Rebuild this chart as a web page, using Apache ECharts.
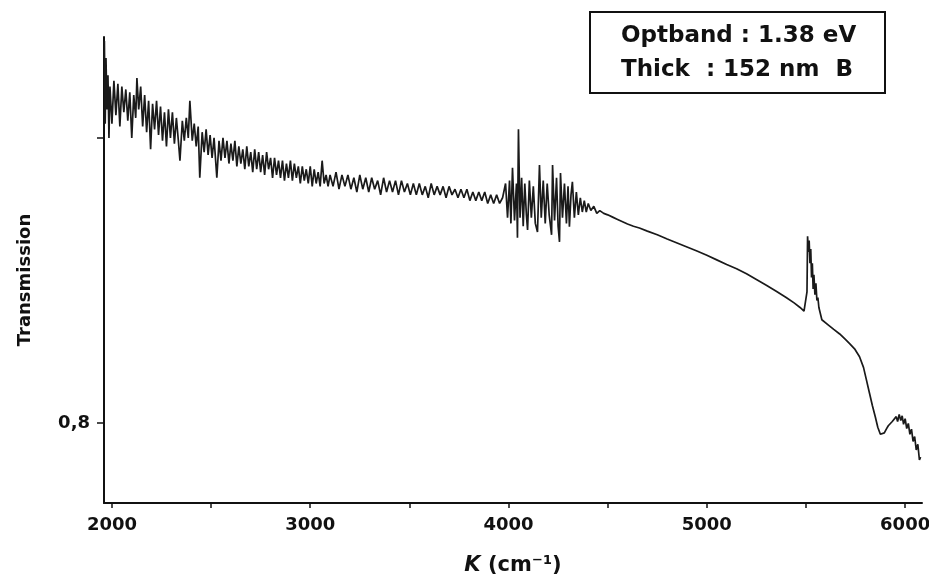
<!DOCTYPE html>
<html>
<head>
<meta charset="utf-8">
<script src="https://cdn.jsdelivr.net/npm/echarts@6/dist/echarts.min.js"></script>
<style>
html,body{margin:0;padding:0;background:#fff;}
#chart{width:929px;height:586px;}
</style>
</head>
<body>
<div id="chart"></div>
<script>
// ---- data (wavenumber cm^-1, transmission) ----
const regionA = [
 [1962,0.934],[1966,0.905],[1970,0.928],[1975,0.910],[1980,0.922],[1985,0.900],[1990,0.918],
 [2000,0.905],[2010,0.920],[2020,0.908],[2030,0.919],[2040,0.904],[2050,0.918],[2060,0.909],
 [2070,0.917],[2080,0.906],[2090,0.916],[2100,0.900],[2110,0.915],[2120,0.907],[2126,0.921],
 [2135,0.910],[2145,0.918],[2155,0.904],[2165,0.915],[2175,0.902],[2185,0.913],[2195,0.896]
];
const regionB = [
 [2205,0.912],[2215,0.903],[2225,0.913],[2235,0.901],[2245,0.911],[2255,0.899],[2265,0.909],
 [2275,0.897],[2285,0.910],[2295,0.900],[2305,0.909],[2315,0.898],[2325,0.907],[2335,0.899],
 [2343,0.892],[2355,0.906],[2365,0.899],[2375,0.907],[2385,0.900],[2393,0.913],[2405,0.899],
 [2415,0.905],[2425,0.897],[2435,0.904],[2443,0.886],[2455,0.902],[2465,0.895],[2475,0.903],
 [2485,0.894],[2495,0.901],[2505,0.893],[2515,0.900],[2529,0.886],[2540,0.899],[2550,0.892],
 [2560,0.900],[2570,0.893],[2580,0.899],[2590,0.891],[2600,0.898],[2610,0.892],[2620,0.899],
 [2630,0.890],[2640,0.897],[2650,0.891],[2660,0.896],[2670,0.889],[2680,0.897],[2690,0.890]
];
const regionC = [
 [2700,0.895],[2710,0.888],[2720,0.896],[2730,0.889],[2740,0.895],[2750,0.888],[2760,0.894],
 [2770,0.887],[2780,0.895],[2790,0.889],[2800,0.893],[2810,0.886],[2820,0.893],[2830,0.887],
 [2840,0.892],[2850,0.886],[2860,0.892],[2870,0.885],[2880,0.891],[2890,0.886],[2900,0.892],
 [2910,0.885],[2920,0.891],[2930,0.886],[2940,0.890],[2950,0.884],[2960,0.890],[2970,0.885],
 [2980,0.889],[2990,0.884],[3000,0.890],[3010,0.883],[3020,0.889],[3030,0.884],[3040,0.888],
 [3050,0.883],[3060,0.892],[3070,0.884],[3080,0.887],[3090,0.883],[3100,0.887]
];
const regionD = [
 [3115,0.883],[3130,0.888],[3145,0.882],[3160,0.887],[3175,0.883],[3190,0.887],[3205,0.882],
 [3220,0.886],[3235,0.881],[3250,0.887],[3265,0.882],[3280,0.886],[3295,0.881],[3310,0.886],
 [3325,0.882],[3340,0.885],[3355,0.880],[3370,0.886],[3385,0.881],[3400,0.885],[3415,0.881],
 [3430,0.885],[3445,0.880],[3460,0.885],[3475,0.881],[3490,0.884],[3505,0.880],[3520,0.884],
 [3535,0.880],[3550,0.884],[3565,0.880],[3580,0.883],[3595,0.879],[3610,0.884],[3625,0.880],
 [3640,0.883],[3655,0.880],[3670,0.883],[3685,0.879],[3700,0.883],[3715,0.880],[3730,0.882],
 [3745,0.879],[3760,0.882],[3775,0.879],[3790,0.882],[3805,0.878],[3820,0.881],[3835,0.878],
 [3850,0.881],[3865,0.878],[3880,0.881],[3895,0.877],[3910,0.880],[3925,0.877],[3940,0.880],
 [3955,0.877],[3970,0.879]
];
const regionE = [
 [3985,0.884],[3995,0.872],[4005,0.885],[4012,0.870],[4020,0.8895],[4030,0.871],[4040,0.884],
 [4045,0.865],[4050,0.903],[4058,0.872],[4066,0.886],[4074,0.869],[4082,0.884],[4090,0.873],
 [4096,0.8677],[4105,0.885],[4115,0.872],[4125,0.883],[4135,0.870],[4146,0.867],[4156,0.8905],
 [4165,0.872],[4175,0.885],[4185,0.870],[4195,0.884],[4205,0.873],[4217,0.866],[4222,0.8905],
 [4232,0.871],[4242,0.886],[4250,0.869],[4257,0.8635],[4262,0.8877],[4272,0.872],[4282,0.884],
 [4292,0.870],[4300,0.883],[4307,0.8688],[4315,0.880],[4322,0.8846],[4332,0.872],[4342,0.881],
 [4352,0.873],[4362,0.879],[4372,0.874],[4382,0.878],[4392,0.874],[4402,0.877],[4415,0.8745],
 [4430,0.876],[4445,0.8735],[4460,0.8745]
];
const regionF = [
 [4480,0.8735],[4500,0.873],[4525,0.8722],[4550,0.8714],[4575,0.8706],[4600,0.8698],[4630,0.869],
 [4660,0.8684],[4700,0.8673],[4750,0.866],[4800,0.8645],[4850,0.8631],[4900,0.8617],[4950,0.8603],
 [5000,0.8588],[5050,0.8572],[5100,0.8556],[5150,0.8541],[5200,0.8523],[5250,0.8503],[5300,0.8483],
 [5350,0.8462],[5400,0.844],[5440,0.8421],[5470,0.8405],[5490,0.8392],[5500,0.8386]
];
const regionG = [
 [5505,0.846],[5508,0.8655],[5512,0.860],[5516,0.864],[5520,0.856],[5524,0.861],[5528,0.851],
 [5532,0.856],[5536,0.847],[5540,0.852],[5545,0.845],[5550,0.849],[5555,0.843],[5560,0.844],
 [5565,0.8405]
];
const regionH = [
 [5580,0.8362],[5610,0.8345],[5640,0.8328],[5670,0.8312],[5700,0.8292],[5720,0.8278],[5745,0.826],
 [5770,0.8232],[5790,0.8195],[5805,0.815],[5820,0.8105],[5835,0.806],[5850,0.802],[5862,0.7985],
 [5875,0.796],[5884,0.7954],[5895,0.7965],[5905,0.7978],[5915,0.799],[5925,0.7985],[5935,0.8005],
 [5945,0.7998],[5955,0.8022],[5962,0.8005],[5970,0.803],[5978,0.8008],[5985,0.8025],[5992,0.7995],
 [6000,0.8015],[6008,0.798],[6016,0.7998],[6024,0.796],[6032,0.7978],[6040,0.7935],[6048,0.7952],
 [6056,0.7905],[6064,0.7925],[6072,0.787],[6078,0.788]
];
const xTicks = [2000,2500,3000,3500,4000,4500,5000,5500,6000];
const xLabels = [2000,3000,4000,5000,6000];
const yTicks = [0.8,0.9];
const yLabels = [0.8];
const infoLines = ['Optband : 1.38 eV', 'Thick  : 152 nm  B'];

const spectrum = [].concat(regionA, regionB, regionC, regionD, regionE, regionF, regionG, regionH);

const FONT = '"DejaVu Sans", sans-serif';
const chart = echarts.init(document.getElementById('chart'), null, {renderer:'canvas'});
chart.setOption({
  animation:false,
  backgroundColor:'#ffffff',
  grid:{left:104, right:7, top:37, bottom:83, containLabel:false, outerBoundsMode:'none'},
  xAxis:{
    type:'value', min:1960, max:6085,
    name:'{k|K} (cm⁻¹)', nameLocation:'middle', nameGap:52,
    nameTextStyle:{fontFamily:FONT, fontSize:21, color:'#111', fontWeight:'bold',
      rich:{k:{fontFamily:FONT, fontSize:21, fontStyle:'italic', fontWeight:'bold', color:'#111'}}},
    axisLine:{show:true, lineStyle:{color:'#111', width:2}},
    axisTick:{show:true, customValues:xTicks, length:5, lineStyle:{color:'#111', width:1.5}},
    axisLabel:{customValues:xLabels, margin:13, fontFamily:FONT, fontWeight:'bold', fontSize:18, color:'#111',
      formatter:v => String(v), hideOverlap:false},
    splitLine:{show:false}
  },
  yAxis:{
    type:'value', min:0.7719, max:0.9354,
    axisLine:{show:true, lineStyle:{color:'#111', width:2}},
    axisTick:{show:true, customValues:yTicks, length:7, lineStyle:{color:'#111', width:1.5}},
    axisLabel:{customValues:yLabels, margin:14, fontFamily:FONT, fontWeight:'bold', fontSize:18, color:'#111',
      formatter:v => v.toFixed(1).replace('.', ',')},
    splitLine:{show:false}
  },
  series:[{
    type:'line', data:spectrum, showSymbol:false, symbol:'none',
    lineStyle:{color:'#1a1a1a', width:1.7}
  }],
  graphic:[
    {type:'text', x:25, y:280, rotation:Math.PI/2,
     style:{text:'Transmission', fontFamily:FONT, fontSize:18, fontWeight:'bold', fill:'#111', align:'center', verticalAlign:'middle'}},
    {type:'rect', shape:{x:590, y:12, width:295, height:81},
     style:{fill:'#fff', stroke:'#111', lineWidth:2}},
    {type:'text', x:621, y:36,
     style:{text:infoLines[0], fontFamily:FONT, fontSize:23, fontWeight:'bold', fill:'#111', align:'left', verticalAlign:'middle'}},
    {type:'text', x:621, y:70,
     style:{text:infoLines[1], fontFamily:FONT, fontSize:23, fontWeight:'bold', fill:'#111', align:'left', verticalAlign:'middle'}}
  ]
});
</script>
</body>
</html>
